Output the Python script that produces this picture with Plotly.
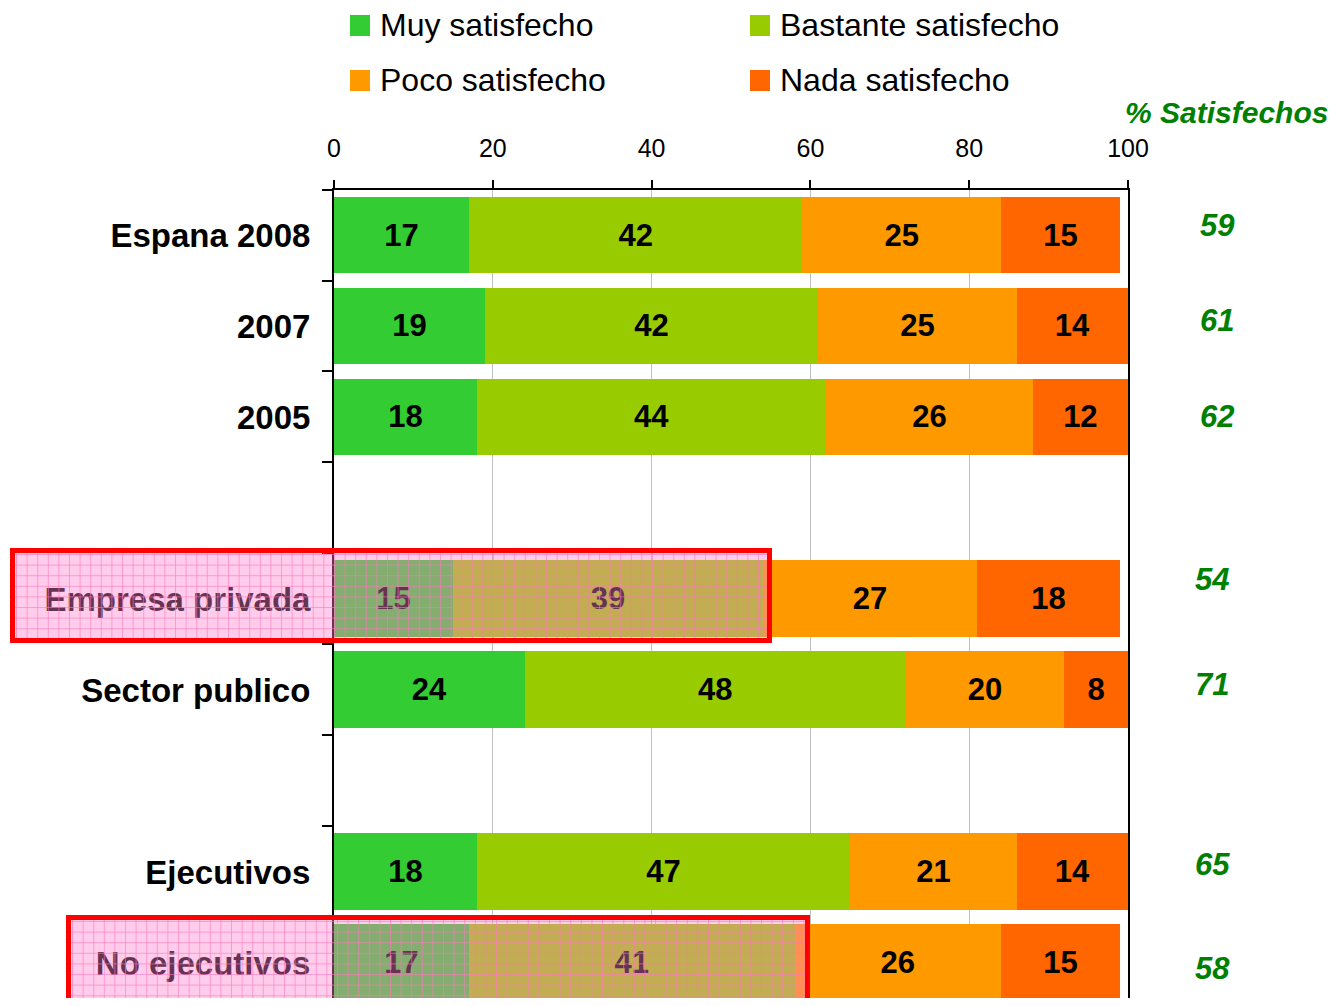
import plotly.graph_objects as go

# ---------------- data ----------------
categories = ["Espana 2008", "2007", "2005", " ", "Empresa privada", "Sector publico", "  ",
              "Ejecutivos", "No ejecutivos"]
series_names = ["Muy satisfecho", "Bastante satisfecho", "Poco satisfecho", "Nada satisfecho"]
muy = [17, 19, 18, None, 15, 24, None, 18, 17]
bastante = [42, 42, 44, None, 39, 48, None, 47, 41]
poco = [25, 25, 26, None, 27, 20, None, 21, 26]
nada = [15, 14, 12, None, 18, 8, None, 14, 15]
pct_satisfechos = [59, 61, 62, None, 54, 71, None, 65, 58]
x_ticks = [0, 20, 40, 60, 80, 100]
colors = ["#33CC33", "#99CC00", "#FF9900", "#FF6600"]

# ---------------- layout helpers (pixel placement) ----------------
OFF = 8          # page body margin
W, H = 1321, 990
FONT = "Liberation Sans, Arial, sans-serif"


def px(x):
    return (x - OFF) / W


def py(y):
    return 1 - (y - OFF) / H


series_values = [muy, bastante, poco, nada]

fig = go.Figure()
for name, vals, col in zip(series_names, series_values, colors):
    fig.add_trace(go.Bar(
        y=categories, x=vals, name=name, orientation="h",
        marker=dict(color=col, line=dict(width=0)),
        texttemplate="%{x}", textposition="inside", insidetextanchor="middle",
        textangle=0, constraintext="none",
        textfont=dict(family=FONT, size=31, color="black", weight="bold"),
        hoverinfo="skip", showlegend=False,
    ))

# right-hand "% Satisfechos" values (y given as category index)
pct_nudge = [-10, -5, 0, 0, -19, -5, 0, -7, 6]
pct_xpos = [1217, 1217, 1217, 0, 1212, 1212, 0, 1212, 1212]
for idx, (v, dy, xp) in enumerate(zip(pct_satisfechos, pct_nudge, pct_xpos)):
    if v is None:
        continue
    fig.add_annotation(
        x=px(xp), y=idx, xref="paper", yref="y", text=f"<b><i>{v}</i></b>",
        showarrow=False, xanchor="center", yanchor="middle", yshift=-dy,
        font=dict(family=FONT, size=31, color="#008000"),
    )

fig.add_annotation(
    x=px(1330), y=py(112), xref="paper", yref="paper", xanchor="right", yanchor="middle",
    text="<b><i>% Satisfechos</i></b>", showarrow=False,
    font=dict(family=FONT, size=30, color="#008000"),
)

# manual legend (2 x 2)
leg_cols = [350, 750]
leg_rows = [25.5, 80.5]
shapes = []
for i, (name, col) in enumerate(zip(series_names, colors)):
    cx = leg_cols[i % 2]
    cy = leg_rows[i // 2]
    shapes.append(dict(type="rect", xref="paper", yref="paper",
                       x0=px(cx), x1=px(cx + 20), y0=py(cy - 10.5), y1=py(cy + 10.5),
                       fillcolor=col, line=dict(width=0)))
    fig.add_annotation(x=px(cx + 28), y=py(cy), xref="paper", yref="paper",
                       xanchor="left", yanchor="middle", text=name, showarrow=False,
                       font=dict(family=FONT, size=32, color="black"))

# highlighted (pink, hatched) overlays with red frames
overlays = [(12.5, 769.5, 550.5, 640.5), (68.5, 807.5, 917.5, 1015)]
for x0, x1, y0, y1 in overlays:
    shapes.append(dict(type="rect", xref="paper", yref="paper", layer="above",
                       x0=px(x0), x1=px(x1), y0=py(y0), y1=py(y1),
                       fillcolor="rgba(255,128,205,0.40)", line=dict(width=0)))
    path = ""
    gx = x0 + 4
    while gx < x1:
        path += f"M{px(gx):.5f},{py(y0):.5f}L{px(gx):.5f},{py(y1):.5f}"
        gx += 10.6
    gy = y0 + 4
    while gy < y1:
        path += f"M{px(x0):.5f},{py(gy):.5f}L{px(x1):.5f},{py(gy):.5f}"
        gy += 10.6
    shapes.append(dict(type="path", xref="paper", yref="paper", layer="above", path=path,
                       line=dict(color="rgba(255,120,190,0.6)", width=1)))
    shapes.append(dict(type="rect", xref="paper", yref="paper", layer="above",
                       x0=px(x0), x1=px(x1), y0=py(y0), y1=py(y1),
                       fillcolor="rgba(0,0,0,0)", line=dict(color="#FF0000", width=5)))

fig.update_layout(
    width=W, height=H, autosize=False,
    margin=dict(l=0, r=0, t=0, b=0, autoexpand=False),
    paper_bgcolor="white", plot_bgcolor="white",
    barmode="stack", bargap=0.154,
    showlegend=False,
    font=dict(family=FONT, color="black"),
    shapes=shapes,
    xaxis=dict(
        domain=[px(334), px(1128)], range=[0, 100], side="top",
        tickvals=x_ticks, ticktext=[str(t) for t in x_ticks],
        showgrid=True, gridcolor="#C0C0C0", gridwidth=1,
        showline=True, linecolor="black", linewidth=2,
        ticks="outside", ticklen=8, tickwidth=1.5, tickcolor="black",
        tickfont=dict(family=FONT, size=25, color="black"),
        ticklabelstandoff=13, zeroline=False, fixedrange=True, automargin=False,
    ),
    yaxis=dict(
        domain=[0, py(189.5)], type="category",
        categoryorder="array", categoryarray=categories,
        range=[8.385, -0.5],
        showline=True, linecolor="black", linewidth=2, mirror=True,
        ticks="outside", ticklen=10, tickwidth=2, tickcolor="black",
        tickson="boundaries", showgrid=False, zeroline=False,
        tickfont=dict(family=FONT, size=33, color="black", weight="bold"),
        ticklabelstandoff=15, fixedrange=True, automargin=False,
    ),
)

fig.write_html("out.html")
